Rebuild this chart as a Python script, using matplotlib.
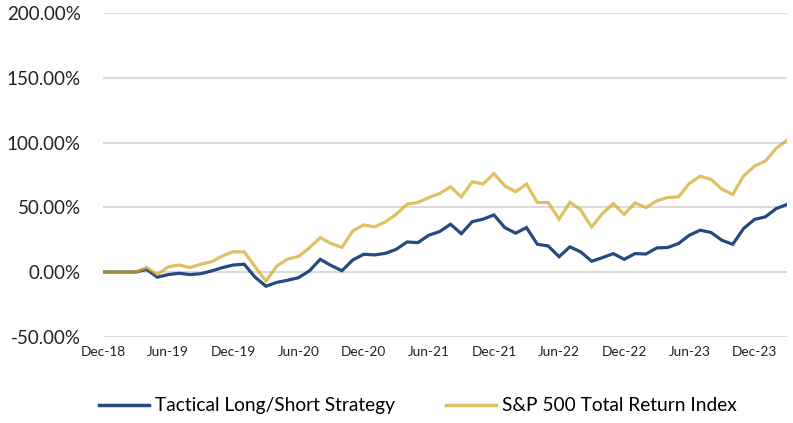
import numpy as np
import matplotlib.pyplot as plt
from matplotlib.lines import Line2D

plt.rcParams['font.family'] = ['Lato', 'DejaVu Sans']

# Monthly cumulative returns (%), Dec-18 .. Mar-24
strategy = [0, 0, 0, 0, 2, -4, -2, -1, -2, -1.3, 0.8, 3.4, 5.4, 6, -4, -11,
            -8, -6.4, -4.4, 0.8, 9.8, 5, 1, 9.3, 13.7, 13.2, 14.4, 17.5, 23.2, 22.7,
            28.4, 31.2, 36.9, 29.6, 38.9, 40.8, 44.1, 34.3, 30, 34.3, 21.4, 20.1,
            11.8, 19.4, 15.5, 8.3, 11.1, 14.2, 9.8, 14.2, 13.9, 18.6, 18.9, 22,
            28.4, 32.3, 30.5, 24.5, 21.4, 33.6, 40.6, 42.6, 49, 52.2]
sp500 = [0, 0, 0, 0, 3.5, -2, 4, 5.4, 3.4, 6, 8, 12.4, 15.7, 15.5, 4, -7,
         4.6, 10, 12, 18.6, 26.6, 22, 19, 31.7, 36.4, 34.8, 38.7, 44.6, 52.4, 53.7,
         57.5, 60.6, 65.8, 58, 69.7, 68, 76, 66.6, 62, 67.9, 53.7, 53.7,
         40.8, 53.9, 48, 34.8, 45.2, 52.9, 44.4, 53.4, 49.8, 55, 57.6, 58,
         68.4, 74.1, 71.5, 64, 59.9, 74.3, 81.8, 85.7, 95.5, 101.9]

tick_labels = ['Dec-18', 'Jun-19', 'Dec-19', 'Jun-20', 'Dec-20', 'Jun-21',
               'Dec-21', 'Jun-22', 'Dec-22', 'Jun-23', 'Dec-23']
series_names = ['Tactical Long/Short Strategy', 'S&P 500 Total Return Index']

blue = '#244A80'
gold = '#D4A829'

fig = plt.figure(figsize=(7.93, 4.23), dpi=100)
ax = fig.add_axes([0.13, 0.204, 0.8625, 0.765])

x = np.arange(len(strategy))
ax.plot(x, strategy, color=blue, lw=2.3, zorder=3, solid_joinstyle='miter')
ax.plot(x, sp500, color=gold, lw=2.3, alpha=0.72, zorder=4, solid_joinstyle='miter')

ax.set_xlim(0, len(strategy) - 1)
ax.set_ylim(-50, 200)
yt = np.arange(-50, 201, 50)
ax.set_yticks(yt)
ax.set_yticklabels(['%.2f%%' % v for v in yt], fontsize=13.5, color='#222222')
ax.set_xticks(np.arange(0, 61, 6))
ax.set_xticklabels(tick_labels, fontsize=9.8, color='#222222')
ax.tick_params(length=0, pad=7)
ax.tick_params(axis='y', pad=16)

ax.grid(axis='y', color='#D9D9D9', lw=1.3, zorder=0)
ax.axhline(0, color='#EAE5D6', lw=1.6, zorder=1)
for s in ax.spines.values():
    s.set_visible(False)

handles = [Line2D([], [], color=blue, lw=2.5),
           Line2D([], [], color=gold, lw=2.5, alpha=0.72)]
fig.legend(handles, series_names, loc='lower center', ncol=2, frameon=False,
           fontsize=13.8, bbox_to_anchor=(0.527, -0.02), handlelength=2.6,
           handletextpad=0.3, columnspacing=2.7)

fig.savefig('out.png', dpi=100)
